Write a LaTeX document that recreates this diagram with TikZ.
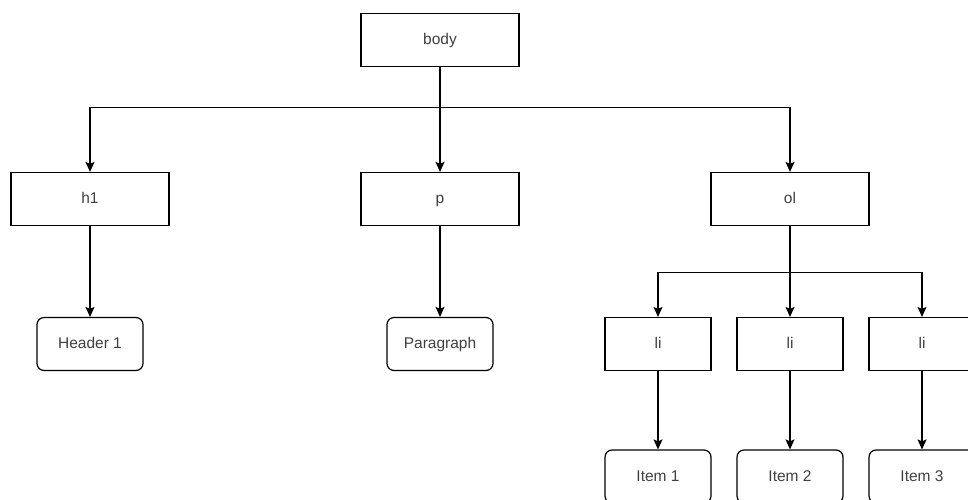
\documentclass[tikz,border=0pt]{standalone}
\usepackage{fontspec}
\setmainfont{Liberation Sans}
\usetikzlibrary{arrows.meta}

\tikzset{
  tag/.style={draw, line width=1.2pt, minimum width=158pt, minimum height=53pt,
    text=black!75, font=\fontsize{15.5}{18}\selectfont,
    text height=2ex, text depth=0.2ex},
  small/.style={tag, minimum width=106pt},
  leaf/.style={small, rounded corners=7pt},
  arr/.style={line width=1.2pt, -{Stealth[length=10pt,width=9pt,inset=2pt]}}
}

\begin{document}
\begin{tikzpicture}[x=1pt,y=-1pt]

\useasboundingbox (0,0) rectangle (968,499);
\clip (0,0) rectangle (968,499);

% level 0 and 1
\node[tag] (body) at (440,40) {body};
\node[tag] (h1) at (90,199) {h1};
\node[tag] (p) at (440,199) {p};
\node[tag] (ol) at (790,199) {ol};

% text leaves
\node[leaf] (hdr) at (90,344) {Header 1};
\node[leaf] (para) at (440,344) {Paragraph};

% list items
\node[small] (li1) at (658,344) {li};
\node[small] (li2) at (790,344) {li};
\node[small] (li3) at (922,344) {li};
\node[leaf] (item1) at (658,476.5) {Item 1};
\node[leaf] (item2) at (790,476.5) {Item 2};
\node[leaf] (item3) at (922,476.5) {Item 3};

\draw[arr] (body.south) -- ++(0,40) -| (h1.north);
\draw[arr] (body.south) -- (p.north);
\draw[arr] (body.south) -- ++(0,40) -| (ol.north);

\draw[arr] (h1.south) -- (hdr.north);
\draw[arr] (p.south) -- (para.north);

\draw[arr] (ol.south) -- ++(0,46) -| (li1.north);
\draw[arr] (ol.south) -- (li2.north);
\draw[arr] (ol.south) -- ++(0,46) -| (li3.north);

\draw[arr] (li1.south) -- (item1.north);
\draw[arr] (li2.south) -- (item2.north);
\draw[arr] (li3.south) -- (item3.north);

\end{tikzpicture}
\end{document}
